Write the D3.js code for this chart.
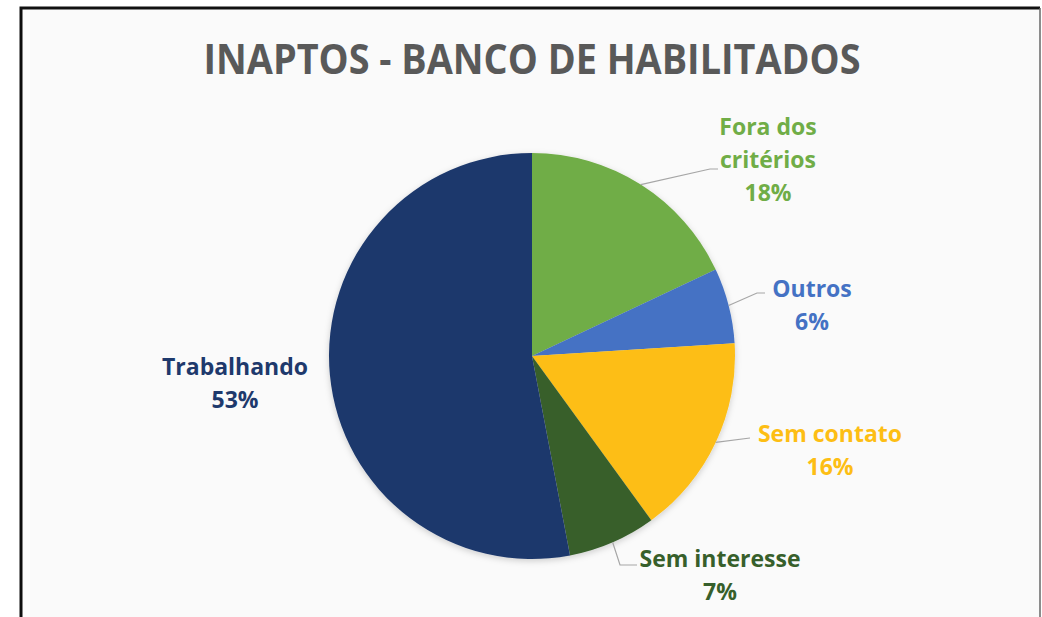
<!DOCTYPE html>
<html lang="pt">
<head>
<meta charset="utf-8">
<title>Inaptos - Banco de Habilitados</title>
<script src="https://d3js.org/d3.v7.min.js"></script>
<style>
  body { margin: 0; background: #fff; }
  text { font-family: "Open Sans", sans-serif; font-weight: bold; }
</style>
</head>
<body>
<script>
// data (clockwise from 12 o'clock)
var categories = ["Fora dos critérios", "Outros", "Sem contato", "Sem interesse", "Trabalhando"];
var values = [18, 6, 16, 7, 53];
var labelLines = [["Fora dos", "critérios"], ["Outros"], ["Sem contato"], ["Sem interesse"], ["Trabalhando"]];
var colors = ["#70ad47", "#4472c4", "#fdbe14", "#375f2b", "#1e396c"];
var titleText = "INAPTOS - BANCO DE HABILITADOS";

var W = 1042, H = 617;
var cx = 532, cy = 356, r = 203;

var svg = d3.select("body").append("svg")
  .attr("width", W).attr("height", H);

// frame
svg.append("rect").attr("x", 30).attr("y", 10).attr("width", 1009).attr("height", H)
  .attr("fill", "#fafafa");
svg.append("path").attr("d", "M21,617 V8 H1040").attr("fill", "none")
  .attr("stroke", "#111").attr("stroke-width", 3);
svg.append("line").attr("x1", 1040).attr("x2", 1040).attr("y1", 8).attr("y2", H)
  .attr("stroke", "#666").attr("stroke-width", 1.5);

svg.append("text")
  .attr("x", cx).attr("y", 74)
  .attr("text-anchor", "middle")
  .attr("font-size", 41)
  .attr("fill", "#595959")
  .attr("textLength", 657).attr("lengthAdjust", "spacingAndGlyphs")
  .text(titleText);

var defs = svg.append("defs");
var f = defs.append("filter").attr("id", "sh").attr("x", "-20%").attr("y", "-20%")
  .attr("width", "140%").attr("height", "140%");
f.append("feDropShadow").attr("dx", 0).attr("dy", 2).attr("stdDeviation", 3)
  .attr("flood-color", "#000").attr("flood-opacity", 0.18);

var pie = d3.pie().sort(null).value(function (d) { return d; });
var arcs = pie(values);
var arc = d3.arc().innerRadius(0).outerRadius(r);
var edge = d3.arc().innerRadius(r).outerRadius(r);

var g = svg.append("g").attr("transform", "translate(" + cx + "," + cy + ")");
g.append("g").attr("filter", "url(#sh)")
  .selectAll("path").data(arcs).enter().append("path")
  .attr("d", arc)
  .attr("fill", function (d, i) { return colors[i]; });

// label anchors relative to pie centre, tuned to the reference
var labelAt = [[236, -196], [280, -51], [298, 94], [188, 219], [-297, 27]];
// elbow of the leader lines
var elbow = [[[178, -187], [186, -187]], [[225, -63], [233, -63]], [[218, 82], [218, 82]], [[88, 209], [105, 209]], null];

var lh = 33;
arcs.forEach(function (d, i) {
  var p0 = edge.centroid(d);
  if (elbow[i]) {
    var pts = [p0].concat(elbow[i]);
    g.append("path")
      .attr("d", d3.line()(pts))
      .attr("fill", "none").attr("stroke", "#a6a6a6").attr("stroke-width", 1.2);
  }
  var lines = labelLines[i].concat([values[i] + "%"]);
  var t = g.append("text")
    .attr("text-anchor", "middle")
    .attr("font-size", 23)
    .attr("fill", colors[i]);
  var y0 = labelAt[i][1] - (lines.length - 1) * lh / 2;
  lines.forEach(function (s, k) {
    t.append("tspan").attr("x", labelAt[i][0]).attr("y", y0 + k * lh)
      .attr("dy", "0.35em").text(s);
  });
});
</script>
</body>
</html>
